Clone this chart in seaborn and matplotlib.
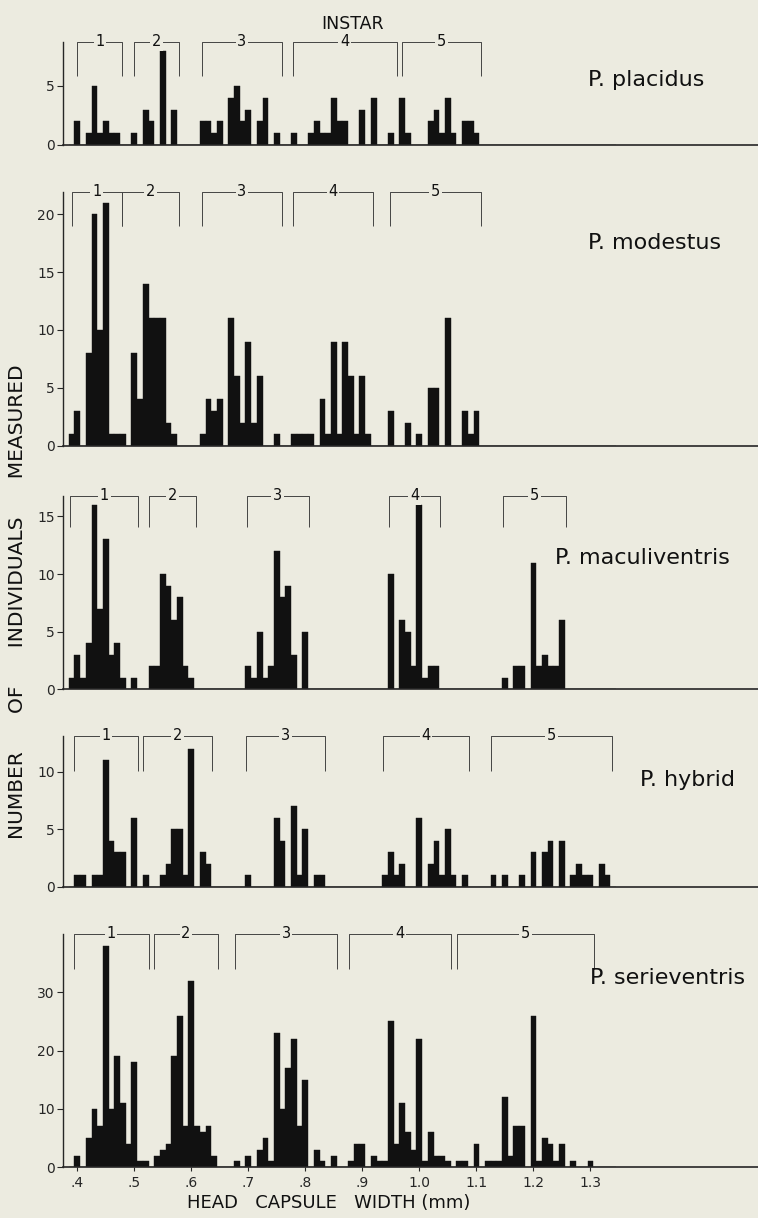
import numpy as np
import pandas as pd
import matplotlib.pyplot as plt
import seaborn as sns

# ================= DATA (head capsule width, mm -> number of individuals) =================
placidus_width = [0.40, 0.42, 0.43, 0.44, 0.45, 0.46, 0.47, 0.50, 0.52, 0.53, 0.55, 0.57,
                  0.62, 0.63, 0.64, 0.65, 0.67, 0.68, 0.69, 0.70, 0.72, 0.73, 0.75, 0.78,
                  0.81, 0.82, 0.83, 0.84, 0.85, 0.86, 0.87, 0.90, 0.92, 0.95, 0.97, 0.98,
                  1.02, 1.03, 1.04, 1.05, 1.06, 1.08, 1.09, 1.10]
placidus_count = [2, 1, 5, 1, 2, 1, 1, 1, 3, 2, 8, 3,
                  2, 2, 1, 2, 4, 5, 2, 3, 2, 4, 1, 1,
                  1, 2, 1, 1, 4, 2, 2, 3, 4, 1, 4, 1,
                  2, 3, 1, 4, 1, 2, 2, 1]

modestus_width = [0.39, 0.40, 0.42, 0.43, 0.44, 0.45, 0.46, 0.47, 0.48, 0.50, 0.51, 0.52,
                  0.53, 0.54, 0.55, 0.56, 0.57, 0.62, 0.63, 0.64, 0.65, 0.67, 0.68, 0.69,
                  0.70, 0.71, 0.72, 0.75, 0.78, 0.79, 0.80, 0.81, 0.83, 0.84, 0.85, 0.86,
                  0.87, 0.88, 0.89, 0.90, 0.91, 0.95, 0.98, 1.00, 1.02, 1.03, 1.05, 1.08,
                  1.09, 1.10]
modestus_count = [1, 3, 8, 20, 10, 21, 1, 1, 1, 8, 4, 14,
                  11, 11, 11, 2, 1, 1, 4, 3, 4, 11, 6, 2,
                  9, 2, 6, 1, 1, 1, 1, 1, 4, 1, 9, 1,
                  9, 6, 1, 6, 1, 3, 2, 1, 5, 5, 11, 3,
                  1, 3]

maculiventris_width = [0.39, 0.40, 0.41, 0.42, 0.43, 0.44, 0.45, 0.46, 0.47, 0.48, 0.50, 0.53,
                       0.54, 0.55, 0.56, 0.57, 0.58, 0.59, 0.60, 0.70, 0.71, 0.72, 0.73, 0.74,
                       0.75, 0.76, 0.77, 0.78, 0.80, 0.95, 0.97, 0.98, 0.99, 1.00, 1.01, 1.02,
                       1.03, 1.15, 1.17, 1.18, 1.20, 1.21, 1.22, 1.23, 1.24, 1.25]
maculiventris_count = [1, 3, 1, 4, 16, 7, 13, 3, 4, 1, 1, 2,
                       2, 10, 9, 6, 8, 2, 1, 2, 1, 5, 1, 2,
                       12, 8, 9, 3, 5, 10, 6, 5, 2, 16, 1, 2,
                       2, 1, 2, 2, 11, 2, 3, 2, 2, 6]

hybrid_width = [0.40, 0.41, 0.43, 0.44, 0.45, 0.46, 0.47, 0.48, 0.50, 0.52, 0.55, 0.56,
                0.57, 0.58, 0.59, 0.60, 0.62, 0.63, 0.70, 0.75, 0.76, 0.78, 0.79, 0.80,
                0.82, 0.83, 0.94, 0.95, 0.96, 0.97, 1.00, 1.02, 1.03, 1.04, 1.05, 1.06,
                1.08, 1.13, 1.15, 1.18, 1.20, 1.22, 1.23, 1.25, 1.27, 1.28, 1.29, 1.30,
                1.32, 1.33]
hybrid_count = [1, 1, 1, 1, 11, 4, 3, 3, 6, 1, 1, 2,
                5, 5, 1, 12, 3, 2, 1, 6, 4, 7, 1, 5,
                1, 1, 1, 3, 1, 2, 6, 2, 4, 1, 5, 1,
                1, 1, 1, 1, 3, 3, 4, 4, 1, 2, 1, 1,
                2, 1]

serieventris_width = [0.40, 0.42, 0.43, 0.44, 0.45, 0.46, 0.47, 0.48, 0.49, 0.50, 0.51, 0.52,
                      0.54, 0.55, 0.56, 0.57, 0.58, 0.59, 0.60, 0.61, 0.62, 0.63, 0.64, 0.68,
                      0.70, 0.72, 0.73, 0.74, 0.75, 0.76, 0.77, 0.78, 0.79, 0.80, 0.82, 0.83,
                      0.85, 0.88, 0.89, 0.90, 0.92, 0.93, 0.94, 0.95, 0.96, 0.97, 0.98, 0.99,
                      1.00, 1.01, 1.02, 1.03, 1.04, 1.05, 1.07, 1.08, 1.10, 1.12, 1.13, 1.14,
                      1.15, 1.16, 1.17, 1.18, 1.20, 1.21, 1.22, 1.23, 1.24, 1.25, 1.27, 1.30]
serieventris_count = [2, 5, 10, 7, 38, 10, 19, 11, 4, 18, 1, 1,
                      2, 3, 4, 19, 26, 7, 32, 7, 6, 7, 2, 1,
                      2, 3, 5, 1, 23, 10, 17, 22, 7, 15, 3, 1,
                      2, 1, 4, 4, 2, 1, 1, 25, 4, 11, 6, 3,
                      22, 1, 6, 2, 2, 1, 1, 1, 4, 1, 1, 1,
                      12, 2, 7, 7, 26, 1, 5, 4, 1, 4, 1, 1]

# instar brackets (start, end) in mm
placidus_instars = [(0.400, 0.479), (0.499, 0.579), (0.618, 0.759), (0.778, 0.960), (0.969, 1.108)]
modestus_instars = [(0.390, 0.478), (0.478, 0.579), (0.618, 0.759), (0.778, 0.919), (0.948, 1.108)]
maculiventris_instars = [(0.388, 0.507), (0.526, 0.608), (0.697, 0.806), (0.947, 1.036), (1.147, 1.257)]
hybrid_instars = [(0.395, 0.506), (0.516, 0.636), (0.696, 0.835), (0.937, 1.087), (1.126, 1.338)]
serieventris_instars = [(0.394, 0.525), (0.535, 0.646), (0.677, 0.856), (0.876, 1.055), (1.066, 1.306)]
instar_labels = ['1', '2', '3', '4', '5']

species_names = ['P. placidus', 'P. modestus', 'P. maculiventris', 'P. hybrid', 'P. serieventris']
y_ticks = [[0, 5], [0, 5, 10, 15, 20], [0, 5, 10, 15], [0, 5, 10], [0, 10, 20, 30]]
x_ticks = [0.4, 0.5, 0.6, 0.7, 0.8, 0.9, 1.0, 1.1, 1.2, 1.3]
x_tick_labels = ['.4', '.5', '.6', '.7', '.8', '.9', '1.0', '1.1', '1.2', '1.3']

# ================= LAYOUT =================
BG = '#ecebe0'
INK = '#111111'
W, H = 758, 1218
# (baseline px, top px, ylim top, bracket bottom, species label x, species label y)
panels = [
    (145.0, 41.7, 8.75, 5.85, 1.296, 5.5),
    (445.7, 191.7, 21.95, 19.0, 1.296, 17.5),
    (689.4, 496.0, 16.77, 14.1, 1.238, 11.4),
    (887.0, 736.0, 13.1, 10.06, 1.387, 9.3),
    (1167.3, 934.0, 40.0, 34.0, 1.299, 32.5),
]
widths = [placidus_width, modestus_width, maculiventris_width, hybrid_width, serieventris_width]
counts = [placidus_count, modestus_count, maculiventris_count, hybrid_count, serieventris_count]
instars = [placidus_instars, modestus_instars, maculiventris_instars, hybrid_instars, serieventris_instars]

sns.set_style('ticks')
plt.rcParams['font.family'] = ['DejaVu Sans']

fig = plt.figure(figsize=(W / 100, H / 100), dpi=100, facecolor=BG)
X_LEFT, X_RIGHT = 0.375, 1.594
AX_LEFT = 63 / W

for i, (base, top, ymax, br_bot, lx, ly) in enumerate(panels):
    ax = fig.add_axes([AX_LEFT, 1 - base / H, 1 - AX_LEFT, (base - top) / H])
    ax.set_facecolor(BG)
    df = pd.DataFrame({'width': widths[i], 'count': counts[i]})
    sns.histplot(data=df, x='width', weights='count', binwidth=0.01, binrange=(0.385, 1.345),
                 ax=ax, color=INK, alpha=1, edgecolor=INK, linewidth=0.3)
    ax.set_xlim(X_LEFT, X_RIGHT)
    ax.set_ylim(0, ymax)
    ax.set_xlabel('')
    ax.set_ylabel('')
    ax.set_yticks(y_ticks[i])
    ax.tick_params(axis='y', direction='out', length=4, width=0.8, labelsize=10, pad=2)
    sns.despine(ax=ax)
    ax.spines['left'].set_linewidth(1.0)
    ax.spines['bottom'].set_linewidth(1.2)

    if i == len(panels) - 1:
        ax.set_xticks(x_ticks)
        ax.set_xticklabels(x_tick_labels)
        ax.tick_params(axis='x', direction='out', length=3, width=0.8, labelsize=10, pad=3)
    else:
        ax.set_xticks([])

    # instar brackets
    for (x0, x1), lab in zip(instars[i], instar_labels):
        ax.plot([x0, x0, x1, x1], [br_bot, ymax, ymax, br_bot], color='#444444', lw=0.7,
                clip_on=False, solid_capstyle='butt')
        ax.text((x0 + x1) / 2, ymax, lab, ha='center', va='center', fontsize=10.5,
                color=INK, bbox=dict(facecolor=BG, edgecolor='none', pad=1.2), clip_on=False)

    ax.text(lx, ly, species_names[i], ha='left', va='center', fontsize=16, color=INK)

fig.text(353 / W, 1 - 24 / H, 'INSTAR', ha='center', va='center', fontsize=12.5, color=INK)
fig.text(18 / W, 1 - 602 / H, 'NUMBER      OF      INDIVIDUALS      MEASURED', rotation=90,
         ha='center', va='center', fontsize=14.5, color=INK)
fig.text(329 / W, 1 - 1203 / H, 'HEAD   CAPSULE   WIDTH (mm)', ha='center', va='center',
         fontsize=13, color=INK)

fig.savefig('out.png', dpi=100, facecolor=BG)
